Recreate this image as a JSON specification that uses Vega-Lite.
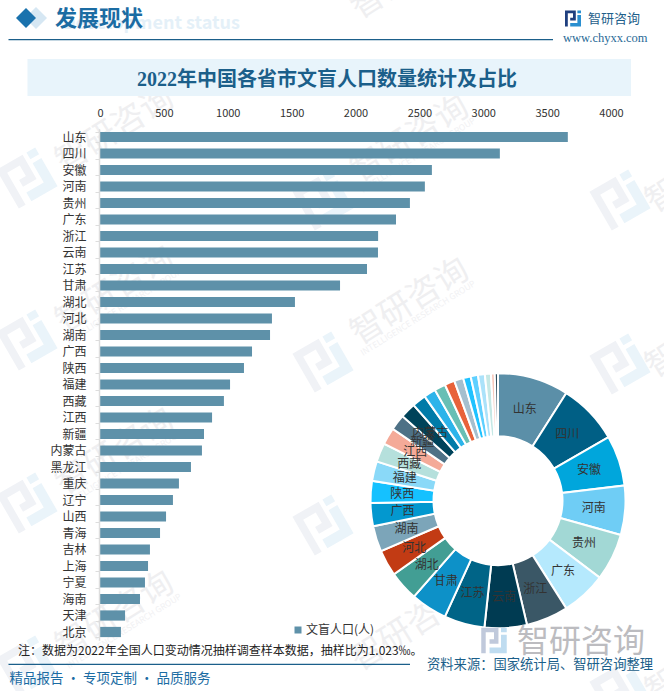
{"$schema":"https://vega.github.io/schema/vega-lite/v6.json","width":664,"height":691,"autosize":{"type":"none"},"padding":0,"background":"#ffffff",
"config":{"font":"Noto Sans CJK SC","view":{"stroke":null}},
"datasets":{"p":[
{"province":"山东","value":3662,"label":"山东"},{"province":"四川","value":3130,"label":"四川"},{"province":"安徽","value":2598,"label":"安徽"},{"province":"河南","value":2543,"label":"河南"},{"province":"贵州","value":2426,"label":"贵州"},{"province":"广东","value":2317,"label":"广东"},{"province":"浙江","value":2177,"label":"浙江"},{"province":"云南","value":2176,"label":"云南"},{"province":"江苏","value":2090,"label":"江苏"},{"province":"甘肃","value":1879,"label":"甘肃"},{"province":"湖北","value":1526,"label":"湖北"},{"province":"河北","value":1346,"label":"河北"},{"province":"湖南","value":1331,"label":"湖南"},{"province":"广西","value":1190,"label":"广西"},{"province":"陕西","value":1127,"label":"陕西"},{"province":"福建","value":1018,"label":"福建"},{"province":"西藏","value":970,"label":"西藏"},{"province":"江西","value":877,"label":"江西"},{"province":"新疆","value":814,"label":"新疆"},{"province":"内蒙古","value":798,"label":"内蒙古"},{"province":"黑龙江","value":712,"label":""},{"province":"重庆","value":618,"label":""},{"province":"辽宁","value":571,"label":""},{"province":"山西","value":517,"label":""},{"province":"青海","value":470,"label":""},{"province":"吉林","value":391,"label":""},{"province":"上海","value":376,"label":""},{"province":"宁夏","value":352,"label":""},{"province":"海南","value":313,"label":""},{"province":"天津","value":196,"label":""},{"province":"北京","value":164,"label":""}]},
"data":{"name":"p"},
"layer":[
{"data":{"values":[{}]},"mark":{"type":"text","x":115,"y":130,"text":"智研咨询","angle":-32,"fontSize":33,"color":"#efeff1"},"encoding":{}},
{"data":{"values":[{}]},"mark":{"type":"text","x":115,"y":290,"text":"智研咨询","angle":-32,"fontSize":33,"color":"#efeff1"},"encoding":{}},
{"data":{"values":[{}]},"mark":{"type":"text","x":115,"y":452,"text":"智研咨询","angle":-32,"fontSize":33,"color":"#efeff1"},"encoding":{}},
{"data":{"values":[{}]},"mark":{"type":"text","x":115,"y":615,"text":"智研咨询","angle":-32,"fontSize":33,"color":"#efeff1"},"encoding":{}},
{"data":{"values":[{}]},"mark":{"type":"text","x":410,"y":-24,"text":"智研咨询","angle":-32,"fontSize":33,"color":"#efeff1"},"encoding":{}},
{"data":{"values":[{}]},"mark":{"type":"text","x":410,"y":139,"text":"智研咨询","angle":-32,"fontSize":33,"color":"#efeff1"},"encoding":{}},
{"data":{"values":[{}]},"mark":{"type":"text","x":410,"y":302,"text":"智研咨询","angle":-32,"fontSize":33,"color":"#efeff1"},"encoding":{}},
{"data":{"values":[{}]},"mark":{"type":"text","x":410,"y":628,"text":"智研咨询","angle":-32,"fontSize":33,"color":"#efeff1"},"encoding":{}},
{"data":{"values":[{}]},"mark":{"type":"text","x":705,"y":170,"text":"智研咨询","angle":-32,"fontSize":33,"color":"#efeff1"},"encoding":{}},
{"data":{"values":[{}]},"mark":{"type":"text","x":705,"y":335,"text":"智研咨询","angle":-32,"fontSize":33,"color":"#efeff1"},"encoding":{}},
{"data":{"values":[{}]},"mark":{"type":"text","x":705,"y":660,"text":"智研咨询","angle":-32,"fontSize":33,"color":"#efeff1"},"encoding":{}},
{"data":{"values":[{}]},"mark":{"type":"text","x":418,"y":155,"text":"INTELLIGENCE RESEARCH GROUP","angle":-32,"fontSize":8.5,"color":"#f1f1f3"},"encoding":{}},
{"data":{"values":[{}]},"mark":{"type":"text","x":418,"y":318,"text":"INTELLIGENCE RESEARCH GROUP","angle":-32,"fontSize":8.5,"color":"#f1f1f3"},"encoding":{}},
{"data":{"values":[{}]},"mark":{"type":"text","x":124,"y":306,"text":"INTELLIGENCE RESEARCH GROUP","angle":-32,"fontSize":8.5,"color":"#f1f1f3"},"encoding":{}},
{"data":{"values":[{}]},"mark":{"type":"text","x":124,"y":468,"text":"INTELLIGENCE RESEARCH GROUP","angle":-32,"fontSize":8.5,"color":"#f1f1f3"},"encoding":{}},
{"data":{"values":[{}]},"mark":{"type":"text","x":124,"y":631,"text":"INTELLIGENCE RESEARCH GROUP","angle":-32,"fontSize":8.5,"color":"#f1f1f3"},"encoding":{}},
{"data":{"values":[{}]},"layer":[
{"mark":{"type":"point","filled":true,"opacity":1,"size":2000,"angle":-30,"shape":"M-1,-1H0.35V0.25H-0.35V-0.1H0V-0.65H-0.65V1H-1Z","color":"#f0f2f6","x":27,"y":178},"encoding":{}},
{"mark":{"type":"point","filled":true,"opacity":1,"size":2000,"angle":-30,"shape":"M0.55,-1H1V-0.65H0.55ZM0.55,-0.45H1V1H-0.35V0.55H0.55Z","color":"#eaf4fa","x":27,"y":178},"encoding":{}},
{"mark":{"type":"point","filled":true,"opacity":1,"size":2000,"angle":-30,"shape":"M-1,-1H0.35V0.25H-0.35V-0.1H0V-0.65H-0.65V1H-1Z","color":"#f0f2f6","x":27,"y":340},"encoding":{}},
{"mark":{"type":"point","filled":true,"opacity":1,"size":2000,"angle":-30,"shape":"M0.55,-1H1V-0.65H0.55ZM0.55,-0.45H1V1H-0.35V0.55H0.55Z","color":"#eaf4fa","x":27,"y":340},"encoding":{}},
{"mark":{"type":"point","filled":true,"opacity":1,"size":2000,"angle":-30,"shape":"M-1,-1H0.35V0.25H-0.35V-0.1H0V-0.65H-0.65V1H-1Z","color":"#f0f2f6","x":27,"y":503},"encoding":{}},
{"mark":{"type":"point","filled":true,"opacity":1,"size":2000,"angle":-30,"shape":"M0.55,-1H1V-0.65H0.55ZM0.55,-0.45H1V1H-0.35V0.55H0.55Z","color":"#eaf4fa","x":27,"y":503},"encoding":{}},
{"mark":{"type":"point","filled":true,"opacity":1,"size":2000,"angle":-30,"shape":"M-1,-1H0.35V0.25H-0.35V-0.1H0V-0.65H-0.65V1H-1Z","color":"#f0f2f6","x":27,"y":666},"encoding":{}},
{"mark":{"type":"point","filled":true,"opacity":1,"size":2000,"angle":-30,"shape":"M0.55,-1H1V-0.65H0.55ZM0.55,-0.45H1V1H-0.35V0.55H0.55Z","color":"#eaf4fa","x":27,"y":666},"encoding":{}},
{"mark":{"type":"point","filled":true,"opacity":1,"size":2000,"angle":-30,"shape":"M-1,-1H0.35V0.25H-0.35V-0.1H0V-0.65H-0.65V1H-1Z","color":"#f0f2f6","x":323,"y":200},"encoding":{}},
{"mark":{"type":"point","filled":true,"opacity":1,"size":2000,"angle":-30,"shape":"M0.55,-1H1V-0.65H0.55ZM0.55,-0.45H1V1H-0.35V0.55H0.55Z","color":"#eaf4fa","x":323,"y":200},"encoding":{}},
{"mark":{"type":"point","filled":true,"opacity":1,"size":2000,"angle":-30,"shape":"M-1,-1H0.35V0.25H-0.35V-0.1H0V-0.65H-0.65V1H-1Z","color":"#f0f2f6","x":323,"y":362},"encoding":{}},
{"mark":{"type":"point","filled":true,"opacity":1,"size":2000,"angle":-30,"shape":"M0.55,-1H1V-0.65H0.55ZM0.55,-0.45H1V1H-0.35V0.55H0.55Z","color":"#eaf4fa","x":323,"y":362},"encoding":{}},
{"mark":{"type":"point","filled":true,"opacity":1,"size":2000,"angle":-30,"shape":"M-1,-1H0.35V0.25H-0.35V-0.1H0V-0.65H-0.65V1H-1Z","color":"#f0f2f6","x":323,"y":525},"encoding":{}},
{"mark":{"type":"point","filled":true,"opacity":1,"size":2000,"angle":-30,"shape":"M0.55,-1H1V-0.65H0.55ZM0.55,-0.45H1V1H-0.35V0.55H0.55Z","color":"#eaf4fa","x":323,"y":525},"encoding":{}},
{"mark":{"type":"point","filled":true,"opacity":1,"size":2000,"angle":-30,"shape":"M-1,-1H0.35V0.25H-0.35V-0.1H0V-0.65H-0.65V1H-1Z","color":"#f0f2f6","x":620,"y":200},"encoding":{}},
{"mark":{"type":"point","filled":true,"opacity":1,"size":2000,"angle":-30,"shape":"M0.55,-1H1V-0.65H0.55ZM0.55,-0.45H1V1H-0.35V0.55H0.55Z","color":"#eaf4fa","x":620,"y":200},"encoding":{}},
{"mark":{"type":"point","filled":true,"opacity":1,"size":2000,"angle":-30,"shape":"M-1,-1H0.35V0.25H-0.35V-0.1H0V-0.65H-0.65V1H-1Z","color":"#f0f2f6","x":620,"y":364},"encoding":{}},
{"mark":{"type":"point","filled":true,"opacity":1,"size":2000,"angle":-30,"shape":"M0.55,-1H1V-0.65H0.55ZM0.55,-0.45H1V1H-0.35V0.55H0.55Z","color":"#eaf4fa","x":620,"y":364},"encoding":{}},
{"mark":{"type":"point","filled":true,"opacity":1,"size":2000,"angle":-30,"shape":"M-1,-1H0.35V0.25H-0.35V-0.1H0V-0.65H-0.65V1H-1Z","color":"#f0f2f6","x":620,"y":690},"encoding":{}},
{"mark":{"type":"point","filled":true,"opacity":1,"size":2000,"angle":-30,"shape":"M0.55,-1H1V-0.65H0.55ZM0.55,-0.45H1V1H-0.35V0.55H0.55Z","color":"#eaf4fa","x":620,"y":690},"encoding":{}}
]},
{"data":{"values":[{}]},"mark":{"type":"rect","color":"#e8f4fb"},"encoding":{"x":{"value":27.5},"x2":{"value":631},"y":{"value":59},"y2":{"value":96}}},
{"data":{"values":[{}]},"mark":{"type":"rect","color":"#1b5f8a"},"encoding":{"x":{"value":8.5},"x2":{"value":553},"y":{"value":39},"y2":{"value":40.2}}},
{"data":{"values":[{}]},"mark":{"type":"rect","color":"#1b5f8a"},"encoding":{"x":{"value":8.5},"x2":{"value":410},"y":{"value":663.8},"y2":{"value":665}}},
{"data":{"values":[{}]},"mark":{"type":"point","filled":true,"opacity":1,"shape":"diamond","size":484,"color":"#d6e7f3","x":36,"y":18},"encoding":{}},
{"data":{"values":[{}]},"mark":{"type":"point","filled":true,"opacity":1,"shape":"diamond","size":400,"color":"#1a72ad","x":26,"y":18},"encoding":{}},
{"data":{"values":[{}]},"mark":{"type":"text","x":240,"y":24,"text":"Development status","align":"right","fontSize":18,"fontWeight":"bold","color":"#e4f0f8"},"encoding":{}},
{"data":{"values":[{}]},"mark":{"type":"text","x":55,"y":19,"text":"发展现状","align":"left","fontSize":22,"fontWeight":"bold","color":"#1b6ca3"},"encoding":{}},
{"data":{"values":[{}]},"mark":{"type":"text","x":327,"y":80,"text":"2022年中国各省市文盲人口数量统计及占比","font":"Liberation Serif, Noto Sans CJK SC","fontSize":20,"fontWeight":"bold","color":"#1b5f8a"},"encoding":{}},
{"data":{"values":[{}]},"mark":{"type":"point","filled":true,"opacity":1,"size":256,"shape":"M-1,-1H0.35V0.25H-0.35V-0.1H0V-0.65H-0.65V1H-1Z","color":"#1f3f7f","x":573,"y":18.5},"encoding":{}},
{"data":{"values":[{}]},"mark":{"type":"point","filled":true,"opacity":1,"size":256,"shape":"M0.55,-1H1V-0.65H0.55ZM0.55,-0.45H1V1H-0.35V0.55H0.55Z","color":"#2a8fd0","x":573,"y":18.5},"encoding":{}},
{"data":{"values":[{}]},"mark":{"type":"text","x":588,"y":18.5,"text":"智研咨询","align":"left","fontSize":13,"color":"#1f5f8b"},"encoding":{}},
{"data":{"values":[{}]},"mark":{"type":"text","x":563,"y":38,"text":"www.chyxx.com","align":"left","font":"Liberation Serif","fontSize":12.5,"color":"#2a6a96"},"encoding":{}},
{"mark":{"type":"bar"},"encoding":{
"y":{"field":"province","type":"nominal","sort":null,"scale":{"range":[128.75,640.25],"paddingInner":0.38,"paddingOuter":0.19},"axis":{"title":null,"orient":"left","offset":-99,"zindex":1,"domainColor":"#dddddd","domainWidth":1.5,"tickColor":"#dddddd","tickSize":4,"tickBand":"extent","labelFontSize":12,"labelColor":"#333333","labelPadding":9,"labelOverlap":false,"grid":false}},
"x":{"field":"value","type":"quantitative","stack":null,"scale":{"domain":[0,4000],"range":[100,611],"nice":false},"axis":{"title":null,"orient":"top","offset":-118,"zindex":1,"format":"d","domain":false,"ticks":false,"grid":false,"values":[0,500,1000,1500,2000,2500,3000,3500,4000],"labelFontSize":11,"labelColor":"#333333","labelPadding":0,"labelFlush":false}},
"color":{"datum":"文盲人口(人)","type":"nominal","scale":{"range":["#5e91a9"]},"legend":{"title":null,"orient":"none","legendX":292,"legendY":624,"symbolType":"square","symbolSize":49,"labelFontSize":12,"labelColor":"#333333","symbolOpacity":1,"labelOffset":2}}}},
{"mark":{"type":"arc","innerRadius":64.5,"outerRadius":127.5,"stroke":"#ffffff","strokeWidth":2},"encoding":{
"x":{"value":498},"y":{"value":500.7},
"theta":{"field":"value","type":"quantitative","stack":true},
"order":{"field":"value","sort":"descending"},
"fill":{"field":"province","type":"nominal","legend":null,"scale":{"domain":["山东","四川","安徽","河南","贵州","广东","浙江","云南","江苏","甘肃","湖北","河北","湖南","广西","陕西","福建","西藏","江西","新疆","内蒙古","黑龙江","重庆","辽宁","山西","青海","吉林","上海","宁夏","海南","天津","北京"],"range":["#5b8fa8","#005f85","#00a6dc","#6fcdf5","#a2d8d5","#b5e9fd","#3a5766","#003b52","#006487","#0d91c8","#429e94","#c23b14","#7ca5b9","#0398cf","#15c1ff","#8ad9f8","#b5e0dc","#f4aa98","#4e7186","#00435a","#007ba8","#2cb4ea","#68bfb5","#e8623a","#a5bfce","#1fc2ff","#5fd0ff","#abe2fa","#c5e8e5","#f7c9bc","#2f4d5c"]}}}},
{"mark":{"type":"text","fontSize":12,"color":"#333333"},"encoding":{
"x":{"value":498},"y":{"value":500.7},
"theta":{"field":"value","type":"quantitative","stack":true},
"radius":{"value":96},
"order":{"field":"value","sort":"descending"},
"detail":{"field":"province"},
"text":{"field":"label"}}},
{"data":{"values":[{}]},"mark":{"type":"point","filled":true,"opacity":1,"size":650,"shape":"M-1,-1H0.35V0.25H-0.35V-0.1H0V-0.65H-0.65V1H-1Z","color":"#c0c9db","x":494,"y":640.5},"encoding":{}},
{"data":{"values":[{}]},"mark":{"type":"point","filled":true,"opacity":1,"size":650,"shape":"M0.55,-1H1V-0.65H0.55ZM0.55,-0.45H1V1H-0.35V0.55H0.55Z","color":"#bfdcf0","x":494,"y":640.5},"encoding":{}},
{"data":{"values":[{}]},"mark":{"type":"text","x":517,"y":642,"text":"智研咨询","align":"left","fontSize":32,"color":"#bcbcc0"},"encoding":{}},
{"data":{"values":[{}]},"mark":{"type":"text","x":18,"y":651,"text":"注：数据为2022年全国人口变动情况抽样调查样本数据，抽样比为1.023‰。","align":"left","fontSize":12,"color":"#222222"},"encoding":{}},
{"data":{"values":[{}]},"mark":{"type":"text","x":427,"y":665,"text":"资料来源：国家统计局、智研咨询整理","align":"left","fontSize":13.3,"color":"#1b5f8a"},"encoding":{}},
{"data":{"values":[{}]},"mark":{"type":"text","x":9.5,"y":679,"text":"精品报告 · 专项定制 · 品质服务","align":"left","fontSize":13.5,"color":"#1b6ca3"},"encoding":{}}
]}
